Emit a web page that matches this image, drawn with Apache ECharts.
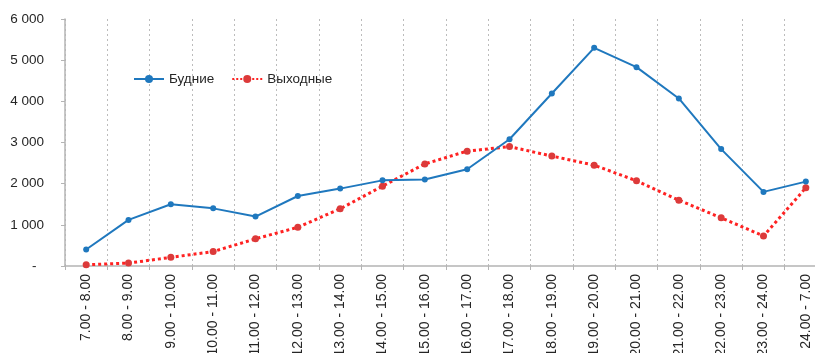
<!DOCTYPE html>
<html>
<head>
<meta charset="utf-8">
<script src="https://cdn.jsdelivr.net/npm/echarts@6/dist/echarts.min.js"></script>
<style>
  html, body { margin: 0; padding: 0; background: #fff; }
  #chart { width: 815px; height: 353px; }
</style>
</head>
<body>
<div id="chart"></div>
<script>
// Hourly intervals
const categories = [
  '7.00 - 8.00', '8.00 - 9.00', '9.00 - 10.00', '10.00 - 11.00', '11.00 - 12.00',
  '12.00 - 13.00', '13.00 - 14.00', '14.00 - 15.00', '15.00 - 16.00', '16.00 - 17.00',
  '17.00 - 18.00', '18.00 - 19.00', '19.00 - 20.00', '20.00 - 21.00', '21.00 - 22.00',
  '22.00 - 23.00', '23.00 - 24.00', '24.00 - 7.00'
];

// Weekday values
const weekdays = [400, 1120, 1500, 1400, 1200, 1700, 1880, 2080, 2100, 2350,
                  3080, 4190, 5300, 4830, 4070, 2840, 1800, 2050];

// Weekend values
const weekends = [30, 70, 210, 350, 660, 940, 1390, 1940, 2480, 2790,
                  2900, 2670, 2450, 2070, 1600, 1170, 730, 1900];

const seriesNames = ['Будние', 'Выходные'];

const FONT = '"Liberation Sans", Arial, sans-serif';
const TEXT = '#262626';
const AXIS = '#b4b4b4';

function fmtThousands(v) {
  if (v === 0) return '-  ';
  return String(v).replace(/\B(?=(\d{3})+(?!\d))/g, ' ');
}

const chart = echarts.init(document.getElementById('chart'), null, { renderer: 'canvas' });

chart.setOption({
  animation: false,
  backgroundColor: '#ffffff',
  textStyle: { fontFamily: FONT },
  legend: {
    left: 128,
    top: 67,
    itemWidth: 30,
    itemHeight: 10,
    itemGap: 17,
    textStyle: { fontFamily: FONT, fontSize: 13.5, color: TEXT },
    data: seriesNames
  },
  // plot area runs a little past the right edge of the canvas,
  // rotated labels are allowed to run off the bottom
  grid: {
    left: 65,
    top: 19,
    width: 762,
    height: 247,
    containLabel: false,
    outerBoundsMode: 'none'
  },
  xAxis: {
    type: 'category',
    data: categories,
    boundaryGap: true,
    axisLine: { lineStyle: { color: AXIS, width: 1.5 } },
    axisTick: { show: true, length: 4, lineStyle: { color: AXIS } },
    splitLine: {
      show: true,
      lineStyle: { color: '#bcbcbc', type: [2, 3], width: 1 }
    },
    axisLabel: {
      rotate: 90,
      interval: 0,
      margin: 8,
      fontSize: 14,
      fontFamily: FONT,
      color: TEXT
    }
  },
  yAxis: {
    type: 'value',
    min: 0,
    max: 6000,
    interval: 1000,
    axisLine: { show: true, lineStyle: { color: AXIS, width: 1.5 } },
    axisTick: { show: true, length: 4, lineStyle: { color: AXIS } },
    splitLine: { show: false },
    axisLabel: {
      margin: 21,
      fontSize: 13.5,
      fontFamily: FONT,
      color: TEXT,
      formatter: fmtThousands
    }
  },
  series: [
    {
      name: seriesNames[0],
      type: 'line',
      data: weekdays,
      symbol: 'circle',
      symbolSize: 6,
      lineStyle: { color: '#1f78be', width: 2 },
      itemStyle: { color: '#1f78be' },
      z: 3
    },
    {
      name: seriesNames[1],
      type: 'line',
      data: weekends,
      symbol: 'circle',
      symbolSize: 7,
      lineStyle: { color: '#ff2222', width: 3, type: 'dotted' },
      itemStyle: { color: '#dc3a3a' },
      z: 2
    }
  ]
});
</script>
</body>
</html>
